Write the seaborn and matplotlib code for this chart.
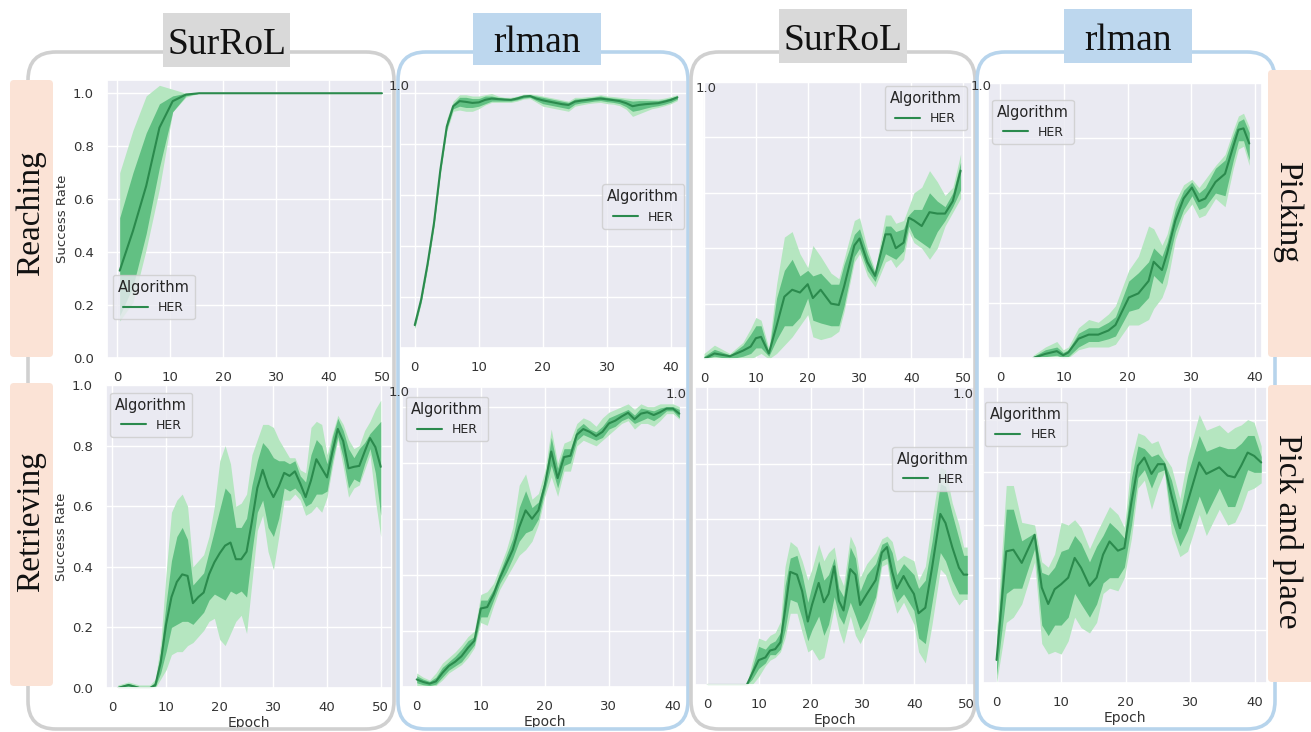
import numpy as np
import pandas as pd
import matplotlib
matplotlib.use('Agg')
import matplotlib.pyplot as plt
from matplotlib.patches import FancyBboxPatch
import seaborn as sns

# ---- data ----
# Reaching / SurRoL
reach_sur_ep = [0.5, 3, 5.5, 8, 10.5, 13, 15.5, 50]
reach_sur_mean = [0.33, 0.48, 0.65, 0.87, 0.97, 0.995, 1.0, 1.0]
reach_sur_dlo = [0.16, 0.27, 0.47, 0.72, 0.93, 0.99, 1.0, 1.0]
reach_sur_dhi = [0.53, 0.70, 0.85, 0.96, 0.99, 1.0, 1.0, 1.0]
reach_sur_llo = [0.14, 0.21, 0.41, 0.64, 0.93, 0.985, 1.0, 1.0]
reach_sur_lhi = [0.70, 0.86, 0.99, 1.03, 1.015, 1.0, 1.0, 1.0]

# Reaching / rlman
reach_rl_ep = list(range(42))
reach_rl_mean = [0.09, 0.19, 0.33, 0.49, 0.70, 0.87, 0.95, 0.97, 0.967, 0.963, 0.965, 0.975, 0.98, 0.978,
                 0.976, 0.975, 0.98, 0.988, 0.99, 0.98, 0.973, 0.968, 0.963, 0.958, 0.955, 0.968, 0.972,
                 0.975, 0.978, 0.98, 0.977, 0.974, 0.97, 0.962, 0.95, 0.955, 0.958, 0.96, 0.962, 0.968,
                 0.975, 0.985]
reach_rl_dlo = [0.08, 0.18, 0.32, 0.48, 0.69, 0.86, 0.94, 0.95, 0.945, 0.945, 0.95, 0.96, 0.97, 0.97,
                0.97, 0.97, 0.975, 0.982, 0.985, 0.972, 0.96, 0.955, 0.95, 0.945, 0.94, 0.958, 0.963,
                0.966, 0.97, 0.972, 0.968, 0.965, 0.96, 0.948, 0.93, 0.935, 0.942, 0.948, 0.952, 0.958,
                0.966, 0.978]
reach_rl_dhi = [0.10, 0.20, 0.34, 0.50, 0.71, 0.89, 0.96, 0.985, 0.985, 0.98, 0.98, 0.99, 0.99, 0.985,
                0.982, 0.98, 0.988, 0.993, 0.995, 0.99, 0.985, 0.98, 0.975, 0.97, 0.965, 0.978, 0.98,
                0.982, 0.986, 0.99, 0.985, 0.982, 0.98, 0.975, 0.97, 0.972, 0.972, 0.972, 0.972, 0.977,
                0.983, 0.99]
reach_rl_llo = [0.075, 0.175, 0.31, 0.47, 0.68, 0.85, 0.93, 0.935, 0.93, 0.93, 0.94, 0.955, 0.965, 0.965,
                0.965, 0.965, 0.97, 0.978, 0.98, 0.965, 0.95, 0.945, 0.94, 0.935, 0.93, 0.95, 0.955,
                0.96, 0.963, 0.965, 0.96, 0.958, 0.952, 0.938, 0.91, 0.92, 0.93, 0.94, 0.945, 0.952,
                0.96, 0.972]
reach_rl_lhi = [0.105, 0.205, 0.35, 0.51, 0.72, 0.90, 0.97, 0.995, 0.995, 0.99, 0.99, 0.995, 1.0, 0.99,
                0.985, 0.985, 0.99, 0.997, 0.998, 0.995, 0.99, 0.985, 0.98, 0.975, 0.97, 0.985, 0.985,
                0.988, 0.99, 0.995, 0.99, 0.988, 0.985, 0.982, 0.98, 0.98, 0.98, 0.978, 0.978, 0.982,
                0.988, 0.995]

# Picking / SurRoL
pick_sur_ep = [0, 2, 5, 7.5, 9, 10, 11, 12.5, 14, 15.5, 17, 18.5, 20, 21, 22.5, 24.5, 26, 27, 29, 30,
               31.5, 33, 35, 36, 37, 38.5, 39.5, 40.5, 42, 43.5, 45, 46.5, 48, 49.5]
pick_sur_mean = [0.0, 0.02, 0.01, 0.03, 0.045, 0.075, 0.08, 0.02, 0.12, 0.225, 0.25, 0.24, 0.27, 0.22,
                 0.25, 0.20, 0.195, 0.26, 0.41, 0.435, 0.35, 0.30, 0.45, 0.45, 0.40, 0.42, 0.51, 0.50,
                 0.48, 0.53, 0.525, 0.525, 0.57, 0.68]
pick_sur_dlo = [0.0, 0.01, 0.0, 0.01, 0.02, 0.04, 0.04, 0.01, 0.07, 0.12, 0.12, 0.15, 0.22, 0.14, 0.13,
                0.12, 0.12, 0.19, 0.37, 0.40, 0.32, 0.28, 0.38, 0.37, 0.36, 0.39, 0.48, 0.44, 0.42, 0.40,
                0.46, 0.50, 0.55, 0.61]
pick_sur_dhi = [0.01, 0.035, 0.015, 0.05, 0.09, 0.12, 0.12, 0.025, 0.22, 0.32, 0.36, 0.30, 0.32, 0.30,
                0.31, 0.27, 0.27, 0.34, 0.45, 0.47, 0.38, 0.31, 0.48, 0.48, 0.46, 0.47, 0.52, 0.54, 0.54,
                0.60, 0.57, 0.55, 0.60, 0.71]
pick_sur_llo = [0.0, 0.0, 0.0, 0.0, 0.0, 0.01, 0.02, 0.0, 0.02, 0.05, 0.08, 0.12, 0.16, 0.08, 0.07, 0.08,
                0.10, 0.17, 0.35, 0.38, 0.30, 0.26, 0.35, 0.36, 0.33, 0.36, 0.46, 0.42, 0.40, 0.36, 0.40,
                0.48, 0.53, 0.58]
pick_sur_lhi = [0.02, 0.05, 0.02, 0.06, 0.11, 0.15, 0.14, 0.04, 0.27, 0.44, 0.46, 0.38, 0.33, 0.41, 0.37,
                0.31, 0.29, 0.36, 0.50, 0.51, 0.40, 0.32, 0.52, 0.52, 0.49, 0.50, 0.55, 0.60, 0.62, 0.68,
                0.64, 0.59, 0.62, 0.74]

# Picking / rlman
pick_rl_ep = [5.2, 7.1, 8.9, 9.9, 10.7, 12.3, 13.9, 15.4, 17.0, 18.1, 20.2, 21.7, 23.3, 24.1, 25.4, 26.2,
              27.5, 28.8, 30.1, 31.2, 32.2, 33.8, 35.3, 36.6, 37.4, 38.2, 39.1]
pick_rl_mean = [0.0, 0.015, 0.025, 0.01, 0.02, 0.07, 0.085, 0.085, 0.10, 0.12, 0.22, 0.235, 0.28, 0.35,
                0.32, 0.38, 0.50, 0.58, 0.62, 0.57, 0.58, 0.64, 0.67, 0.77, 0.83, 0.835, 0.78]
pick_rl_dlo = [0.0, 0.005, 0.01, 0.0, 0.005, 0.04, 0.06, 0.06, 0.07, 0.08, 0.17, 0.18, 0.22, 0.30, 0.27,
               0.33, 0.46, 0.54, 0.59, 0.54, 0.55, 0.60, 0.59, 0.72, 0.79, 0.79, 0.72]
pick_rl_dhi = [0.005, 0.03, 0.04, 0.02, 0.03, 0.09, 0.11, 0.11, 0.13, 0.15, 0.28, 0.31, 0.35, 0.40, 0.37,
               0.42, 0.54, 0.61, 0.64, 0.60, 0.62, 0.69, 0.72, 0.81, 0.86, 0.87, 0.82]
pick_rl_llo = [0.0, 0.0, 0.0, 0.0, 0.0, 0.03, 0.04, 0.04, 0.04, 0.05, 0.12, 0.12, 0.14, 0.18, 0.22, 0.27,
               0.43, 0.52, 0.56, 0.51, 0.52, 0.58, 0.55, 0.69, 0.76, 0.77, 0.70]
pick_rl_lhi = [0.01, 0.04, 0.06, 0.03, 0.04, 0.11, 0.14, 0.13, 0.16, 0.19, 0.32, 0.37, 0.48, 0.47, 0.41,
               0.45, 0.57, 0.63, 0.65, 0.62, 0.65, 0.70, 0.74, 0.83, 0.88, 0.89, 0.84]

# Retrieving / SurRoL
retr_sur_ep = [1, 3, 5, 7] + list(range(8, 51))
retr_sur_mean = [0.0, 0.01, 0.0, 0.0, 0.01, 0.085, 0.21, 0.30, 0.35, 0.375, 0.37, 0.28, 0.30, 0.315,
                 0.375, 0.415, 0.445, 0.47, 0.48, 0.425, 0.425, 0.45, 0.55, 0.66, 0.72, 0.665, 0.63,
                 0.665, 0.71, 0.70, 0.715, 0.675, 0.63, 0.685, 0.755, 0.725, 0.695, 0.78, 0.855, 0.815,
                 0.725, 0.73, 0.733, 0.78, 0.825, 0.795, 0.73]
retr_sur_dlo = [0.0, 0.0, 0.0, 0.0, 0.005, 0.05, 0.12, 0.20, 0.21, 0.22, 0.22, 0.21, 0.23, 0.25, 0.29,
                0.31, 0.30, 0.29, 0.32, 0.31, 0.32, 0.30, 0.45, 0.58, 0.62, 0.53, 0.50, 0.56, 0.66, 0.65,
                0.66, 0.64, 0.60, 0.61, 0.64, 0.64, 0.65, 0.75, 0.83, 0.76, 0.66, 0.69, 0.68, 0.74, 0.79,
                0.71, 0.57]
retr_sur_dhi = [0.005, 0.015, 0.005, 0.005, 0.02, 0.12, 0.28, 0.42, 0.50, 0.53, 0.49, 0.34, 0.36, 0.38,
                0.45, 0.52, 0.59, 0.66, 0.64, 0.53, 0.53, 0.56, 0.67, 0.75, 0.81, 0.79, 0.76, 0.75, 0.75,
                0.74, 0.75, 0.70, 0.68, 0.77, 0.82, 0.80, 0.74, 0.83, 0.89, 0.85, 0.79, 0.76, 0.79, 0.81,
                0.84, 0.86, 0.88]
retr_sur_llo = [0.0, 0.0, 0.0, 0.0, 0.0, 0.03, 0.06, 0.11, 0.12, 0.12, 0.14, 0.15, 0.17, 0.19, 0.22, 0.23,
                0.16, 0.14, 0.18, 0.22, 0.24, 0.18, 0.35, 0.52, 0.57, 0.45, 0.39, 0.50, 0.62, 0.62, 0.64,
                0.62, 0.57, 0.58, 0.60, 0.58, 0.63, 0.73, 0.82, 0.73, 0.63, 0.66, 0.67, 0.72, 0.77, 0.62,
                0.50]
retr_sur_lhi = [0.01, 0.02, 0.01, 0.01, 0.03, 0.15, 0.38, 0.58, 0.62, 0.64, 0.60, 0.40, 0.42, 0.44, 0.50,
                0.60, 0.75, 0.80, 0.74, 0.60, 0.61, 0.64, 0.77, 0.82, 0.87, 0.87, 0.86, 0.82, 0.79, 0.76,
                0.76, 0.72, 0.71, 0.86, 0.88, 0.87, 0.77, 0.84, 0.90, 0.87, 0.82, 0.79, 0.80, 0.85, 0.88,
                0.92, 0.95]

# Retrieving / rlman
retr_rl_ep = list(range(42))
retr_rl_mean = [0.027, 0.018, 0.012, 0.02, 0.05, 0.075, 0.09, 0.11, 0.14, 0.165, 0.28, 0.285, 0.33, 0.39,
                0.44, 0.49, 0.57, 0.63, 0.60, 0.63, 0.72, 0.84, 0.745, 0.82, 0.825, 0.90, 0.92, 0.91,
                0.895, 0.91, 0.94, 0.95, 0.965, 0.978, 0.955, 0.975, 0.98, 0.97, 0.98, 0.993, 0.993, 0.975]
retr_rl_dlo = [0.015, 0.008, 0.005, 0.01, 0.035, 0.06, 0.075, 0.09, 0.12, 0.15, 0.25, 0.25, 0.31, 0.37,
               0.41, 0.46, 0.52, 0.55, 0.56, 0.60, 0.70, 0.79, 0.71, 0.79, 0.80, 0.88, 0.90, 0.89, 0.88,
               0.89, 0.92, 0.93, 0.95, 0.96, 0.94, 0.95, 0.96, 0.95, 0.965, 0.985, 0.985, 0.96]
retr_rl_dhi = [0.04, 0.028, 0.02, 0.035, 0.07, 0.09, 0.11, 0.135, 0.165, 0.18, 0.31, 0.31, 0.35, 0.41,
               0.47, 0.53, 0.64, 0.70, 0.64, 0.66, 0.74, 0.89, 0.78, 0.85, 0.85, 0.92, 0.94, 0.92, 0.91,
               0.93, 0.96, 0.97, 0.98, 0.99, 0.97, 0.995, 0.99, 0.985, 0.995, 1.0, 1.0, 0.99]
retr_rl_llo = [0.005, 0.0, 0.0, 0.005, 0.025, 0.05, 0.065, 0.08, 0.105, 0.14, 0.23, 0.22, 0.29, 0.35,
               0.39, 0.43, 0.47, 0.49, 0.52, 0.58, 0.68, 0.75, 0.68, 0.77, 0.77, 0.86, 0.88, 0.87, 0.86,
               0.88, 0.90, 0.92, 0.94, 0.95, 0.92, 0.94, 0.94, 0.93, 0.95, 0.975, 0.975, 0.955]
retr_rl_lhi = [0.05, 0.035, 0.025, 0.05, 0.085, 0.105, 0.125, 0.15, 0.18, 0.20, 0.33, 0.34, 0.37, 0.43,
               0.49, 0.57, 0.72, 0.76, 0.67, 0.69, 0.77, 0.92, 0.80, 0.87, 0.88, 0.94, 0.96, 0.95, 0.93,
               0.96, 0.98, 0.99, 1.0, 1.01, 0.99, 1.01, 1.0, 1.0, 1.01, 1.01, 1.01, 1.0]

# Pick and place / SurRoL
pp_sur_ep = [0, 7.6, 8.6, 9.9, 11.2, 12.1, 13.1, 14.1, 15.0, 16.0, 17.3, 18.3, 19.4, 20.2, 21.5, 22.5,
             23.4, 24.5, 25.4, 26.3, 27.6, 28.6, 29.5, 30.8, 32.5, 33.7, 34.7, 35.7, 36.6, 37.9, 38.9,
             39.9, 40.8, 42.1, 43.4, 45.0, 46.0, 47.3, 48.6, 49.5, 50.2]
pp_sur_mean = [0.0, 0.0, 0.04, 0.09, 0.10, 0.125, 0.13, 0.155, 0.27, 0.41, 0.40, 0.34, 0.23, 0.29, 0.37,
               0.30, 0.33, 0.43, 0.305, 0.27, 0.42, 0.40, 0.29, 0.33, 0.38, 0.48, 0.50, 0.41, 0.35, 0.395,
               0.36, 0.33, 0.26, 0.28, 0.425, 0.62, 0.587, 0.50, 0.425, 0.40, 0.40]
pp_sur_dlo = [0.0, 0.0, 0.02, 0.06, 0.08, 0.11, 0.11, 0.13, 0.20, 0.31, 0.30, 0.24, 0.16, 0.20, 0.25,
              0.18, 0.22, 0.32, 0.25, 0.22, 0.30, 0.25, 0.20, 0.24, 0.32, 0.45, 0.46, 0.35, 0.30, 0.33,
              0.30, 0.27, 0.17, 0.15, 0.30, 0.48, 0.45, 0.38, 0.33, 0.33, 0.33]
pp_sur_dhi = [0.002, 0.002, 0.06, 0.14, 0.13, 0.15, 0.16, 0.19, 0.36, 0.46, 0.47, 0.40, 0.30, 0.36, 0.45,
              0.38, 0.40, 0.46, 0.35, 0.32, 0.50, 0.46, 0.34, 0.40, 0.44, 0.51, 0.52, 0.48, 0.40, 0.44,
              0.42, 0.40, 0.35, 0.38, 0.52, 0.73, 0.72, 0.62, 0.53, 0.47, 0.47]
pp_sur_llo = [0.0, 0.0, 0.0, 0.03, 0.07, 0.09, 0.10, 0.12, 0.17, 0.26, 0.26, 0.19, 0.12, 0.13, 0.09,
              0.10, 0.18, 0.28, 0.20, 0.15, 0.25, 0.18, 0.15, 0.20, 0.30, 0.43, 0.44, 0.32, 0.26, 0.30,
              0.26, 0.22, 0.12, 0.08, 0.22, 0.42, 0.40, 0.33, 0.29, 0.31, 0.31]
pp_sur_lhi = [0.003, 0.003, 0.08, 0.17, 0.16, 0.18, 0.19, 0.23, 0.43, 0.52, 0.50, 0.45, 0.38, 0.42, 0.51,
              0.45, 0.48, 0.50, 0.40, 0.36, 0.54, 0.50, 0.39, 0.44, 0.48, 0.53, 0.54, 0.52, 0.45, 0.47,
              0.46, 0.45, 0.38, 0.43, 0.60, 0.79, 0.78, 0.66, 0.58, 0.50, 0.50]

# Pick and place / rlman
pp_rl_ep = [0, 1.5, 2.6, 3.9, 5.9, 7.0, 8.0, 9.0, 10.0, 11.1, 12.1, 13.1, 14.4, 15.5, 16.5, 17.5, 18.8,
            19.8, 20.9, 21.9, 22.9, 24.0, 25.0, 26.0, 27.1, 28.4, 29.6, 31.4, 32.5, 34.5, 35.8, 36.9,
            37.9, 38.9, 39.9, 41.0]
pp_rl_mean = [0.0875, 0.50, 0.506, 0.456, 0.5625, 0.3625, 0.30, 0.356, 0.375, 0.40, 0.475, 0.4375,
              0.369, 0.40, 0.4875, 0.5375, 0.5025, 0.5125, 0.6875, 0.825, 0.856, 0.794, 0.831, 0.831,
              0.7125, 0.5875, 0.6875, 0.8375, 0.794, 0.819, 0.7875, 0.781, 0.825, 0.875, 0.8625, 0.8375]
pp_rl_dlo = [0.03, 0.34, 0.36, 0.36, 0.51, 0.22, 0.18, 0.22, 0.22, 0.25, 0.34, 0.30, 0.25, 0.30, 0.38,
             0.40, 0.40, 0.44, 0.60, 0.78, 0.81, 0.74, 0.80, 0.81, 0.62, 0.52, 0.58, 0.71, 0.64, 0.74,
             0.67, 0.67, 0.74, 0.81, 0.80, 0.80]
pp_rl_dhi = [0.14, 0.66, 0.66, 0.54, 0.57, 0.42, 0.41, 0.44, 0.50, 0.51, 0.56, 0.53, 0.46, 0.52, 0.56,
             0.61, 0.58, 0.55, 0.78, 0.90, 0.89, 0.86, 0.87, 0.84, 0.77, 0.64, 0.79, 0.94, 0.88, 0.90,
             0.89, 0.89, 0.91, 0.94, 0.94, 0.86]
pp_rl_llo = [0.0, 0.23, 0.25, 0.30, 0.46, 0.15, 0.11, 0.12, 0.11, 0.16, 0.25, 0.21, 0.19, 0.23, 0.34,
             0.36, 0.35, 0.40, 0.55, 0.74, 0.77, 0.66, 0.74, 0.80, 0.57, 0.48, 0.50, 0.64, 0.56, 0.66,
             0.60, 0.61, 0.66, 0.73, 0.74, 0.76]
pp_rl_lhi = [0.20, 0.75, 0.75, 0.61, 0.60, 0.46, 0.44, 0.49, 0.61, 0.60, 0.62, 0.59, 0.51, 0.57, 0.62,
             0.67, 0.64, 0.59, 0.85, 0.95, 0.94, 0.91, 0.92, 0.86, 0.82, 0.70, 0.86, 1.02, 0.96, 0.98,
             0.95, 0.97, 0.98, 1.00, 0.99, 0.90]

sur_ticks = [0, 10, 20, 30, 40, 50]
rl_ticks = [0, 10, 20, 30, 40]
y_ticks = [0.0, 0.2, 0.4, 0.6, 0.8, 1.0]

LINE = '#2b8a4d'
DARK = '#62c083'
LIGHT = '#b5e6c0'

W, H = 1311, 732

sns.set_theme(style='darkgrid')
plt.rcParams['font.family'] = ['DejaVu Sans']

fig = plt.figure(figsize=(W / 100, H / 100), dpi=100)


def px_rect(x0, y0, x1, y1):
    return [x0 / W, 1 - y1 / H, (x1 - x0) / W, (y1 - y0) / H]


def draw(rect, ep, mean, dlo, dhi, llo, lhi, xlim, ylim, xticks, loc, anchor, first_col, bottom):
    ax = fig.add_axes(px_rect(*rect))
    ax.fill_between(ep, llo, lhi, color=LIGHT, lw=0)
    ax.fill_between(ep, dlo, dhi, color=DARK, lw=0)
    df = pd.DataFrame({'Epoch': ep, 'Success Rate': mean, 'Algorithm': 'HER'})
    sns.lineplot(data=df, x='Epoch', y='Success Rate', hue='Algorithm',
                 palette=[LINE], ax=ax, lw=1.5)
    ax.set_xlim(*xlim)
    ax.set_ylim(*ylim)
    ax.set_xticks(xticks)
    ax.set_yticks(y_ticks)
    ax.tick_params(labelsize=9.5, colors='#333333')
    if first_col:
        ax.set_ylabel('Success Rate', fontsize=9.5, color='#333333', labelpad=3)
    else:
        ax.set_yticklabels([])
        ax.set_ylabel('')
    if bottom:
        ax.set_xlabel('Epoch', fontsize=10, color='#333333', labelpad=1)
    else:
        ax.set_xlabel('')
    sns.move_legend(ax, loc, bbox_to_anchor=anchor, title='Algorithm',
                    fontsize=9, title_fontsize=10.5, borderaxespad=0)
    return ax


draw((107, 80, 392, 358), reach_sur_ep, reach_sur_mean, reach_sur_dlo, reach_sur_dhi,
     reach_sur_llo, reach_sur_lhi, (-1.9, 51.9), (0, 1.05), sur_ticks,
     'lower left', (0.02, 0.14), True, False)
draw((400, 80, 687, 348), reach_rl_ep, reach_rl_mean, reach_rl_dlo, reach_rl_dhi,
     reach_rl_llo, reach_rl_lhi, (-2.3, 42.5), (0.034, 1.053), rl_ticks,
     'lower right', (0.99, 0.445), False, False)
draw((703, 82, 972, 359), pick_sur_ep, pick_sur_mean, pick_sur_dlo, pick_sur_dhi,
     pick_sur_llo, pick_sur_lhi, (-0.2, 51.7), (0, 1.0), sur_ticks,
     'upper right', (0.98, 0.985), False, False)
draw((988, 83, 1262, 358), pick_rl_ep, pick_rl_mean, pick_rl_dlo, pick_rl_dhi,
     pick_rl_llo, pick_rl_lhi, (-1.9, 41.1), (0, 0.986), rl_ticks,
     'upper left', (0.015, 0.94), False, False)
draw((106, 385, 392, 688), retr_sur_ep, retr_sur_mean, retr_sur_dlo, retr_sur_dhi,
     retr_sur_llo, retr_sur_lhi, (-1.2, 52.1), (0, 1.0), sur_ticks,
     'upper left', (0.015, 0.975), True, True)
draw((402, 387, 687, 687), retr_rl_ep, retr_rl_mean, retr_rl_dlo, retr_rl_dhi,
     retr_rl_llo, retr_rl_lhi, (-2.3, 42.2), (0, 1.07), rl_ticks,
     'upper left', (0.015, 0.967), False, True)
draw((695, 387, 975, 685), pp_sur_ep, pp_sur_mean, pp_sur_dlo, pp_sur_dhi,
     pp_sur_llo, pp_sur_lhi, (-2.4, 51.7), (0.01, 1.08), sur_ticks,
     'upper right', (0.997, 0.80), False, True)
draw((983, 387, 1267, 683), pp_rl_ep, pp_rl_mean, pp_rl_dlo, pp_rl_dhi,
     pp_rl_llo, pp_rl_lhi, (-2.1, 41.9), (0.014, 1.124), rl_ticks,
     'upper left', (0.007, 0.95), False, True)

# overlay in pixel coordinates for frames, headers and side labels
ov = fig.add_axes([0, 0, 1, 1], zorder=5)
ov.set_xlim(0, W)
ov.set_ylim(H, 0)
ov.axis('off')

# leftover "1.0" tick labels from the pasted panels
for x, y in [(399, 87), (706, 88), (981, 86), (399, 393), (676, 395), (963, 395)]:
    ov.text(x, y, '1.0', fontsize=9.5, color='#333333', ha='center', va='center')

GRAY_EDGE = '#d0d0d0'
BLUE_EDGE = '#b7d4ec'
for x0, x1, col in [(28, 394, GRAY_EDGE), (398, 688, BLUE_EDGE),
                    (691, 975, GRAY_EDGE), (977, 1275, BLUE_EDGE)]:
    ov.add_patch(FancyBboxPatch((x0, 52), x1 - x0, 677,
                                boxstyle='round,pad=0,rounding_size=28',
                                fill=False, ec=col, lw=2.6))

serif = ['Liberation Serif', 'DejaVu Serif']
for x0, x1, y0, y1, fc, label in [(163, 290, 13, 67, '#d9d9d9', 'SurRoL'),
                                  (473, 601, 13, 65, '#bdd7ee', 'rlman'),
                                  (779, 907, 9, 63, '#d9d9d9', 'SurRoL'),
                                  (1064, 1192, 9, 63, '#bdd7ee', 'rlman')]:
    ov.add_patch(plt.Rectangle((x0, y0), x1 - x0, y1 - y0, fc=fc, ec='none'))
    ov.text((x0 + x1) / 2, y1 - 13, label, family=serif, fontsize=27,
            ha='center', va='baseline', color='#111111')

PEACH = '#fbe3d6'
for x0, x1, y0, y1, rot, tx, ty, label in [(10, 53, 80, 357, 90, 31, 213, 'Reaching'),
                                           (10, 53, 383, 686, 90, 31, 522, 'Retrieving'),
                                           (1268, 1318, 70, 357, 270, 1287, 212, 'Picking'),
                                           (1268, 1318, 385, 682, 270, 1288, 531, 'Pick and place')]:
    ov.add_patch(FancyBboxPatch((x0, y0), x1 - x0, y1 - y0,
                                boxstyle='round,pad=0,rounding_size=4',
                                fc=PEACH, ec='none'))
    ov.text(tx, ty, label, family=serif, fontsize=24, rotation=rot,
            ha='center', va='center', color='#111111')

fig.savefig('out.png', dpi=100)
